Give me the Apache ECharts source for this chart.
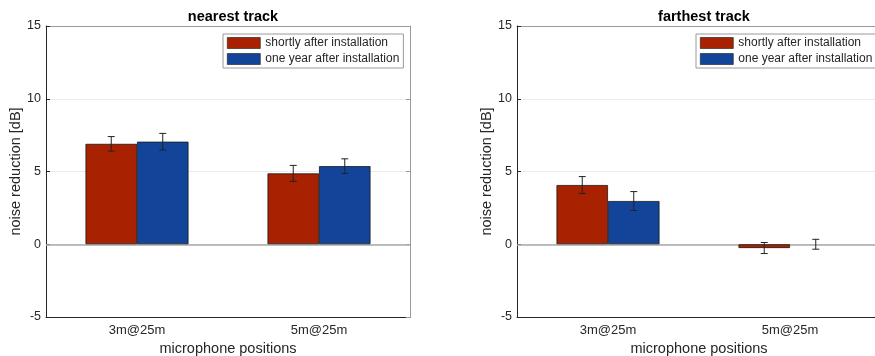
<!DOCTYPE html>
<html>
<head>
<meta charset="utf-8">
<script src="https://cdn.jsdelivr.net/npm/echarts@6/dist/echarts.min.js"></script>
<style>html,body{margin:0;padding:0;background:#fff}#c{width:875px;height:356px}</style>
</head>
<body>
<div id="c"></div>
<script>
const categories = ['3m@25m', '5m@25m'];
const seriesNames = ['shortly after installation', 'one year after installation'];
const titles = ['nearest track', 'farthest track'];
const yTicks = [-5, 0, 5, 10, 15];
// nearest track
const nearShortly = [6.9, 4.87];
const nearShortlyErr = [0.5, 0.55];
const nearYear = [7.05, 5.37];
const nearYearErr = [0.57, 0.5];
// farthest track
const farShortly = [4.07, -0.26];
const farShortlyErr = [0.58, 0.38];
const farYear = [2.97, 0.0];
const farYearErr = [0.65, 0.34];

const RED = '#a82100', BLUE = '#12449a';
const BAR_FRAC = 0.283;
const FONT = 'Liberation Sans, Arial, sans-serif';
const gridDefs = [{left: 46}, {left: 517}];

const panels = [
  {vals: [nearShortly, nearYear], errs: [nearShortlyErr, nearYearErr]},
  {vals: [farShortly, farYear], errs: [farShortlyErr, farYearErr]}
];

const grid = [], xAxis = [], yAxis = [], series = [], title = [], legend = [];
panels.forEach((p, g) => {
  grid.push({left: gridDefs[g].left, top: 26, width: 364, height: 291, containLabel: false, outerBoundsMode: 'none'});
  title.push({text: titles[g], left: gridDefs[g].left + 182, top: 4, textAlign: 'center',
    textStyle: {fontFamily: FONT, fontSize: 14.5, fontWeight: 'bold', color: '#000'}});
  legend.push({
    data: seriesNames, orient: 'vertical', left: g === 0 ? 223 : 696, top: 34,
    icon: 'rect', itemWidth: 33, itemHeight: 11, itemGap: 4, padding: [3, 4, 3, 4],
    borderColor: '#9a9a9a', borderWidth: 1, backgroundColor: '#fff', selectedMode: false,
    itemStyle: {borderWidth: 0.6, borderColor: '#1a1a1a'},
    textStyle: {fontFamily: FONT, fontSize: 12, color: '#262626', lineHeight: 12}
  });
  xAxis.push({
    type: 'category', gridIndex: g, data: categories, position: 'bottom',
    name: 'microphone positions', nameLocation: 'middle', nameGap: 24,
    nameTextStyle: {fontFamily: FONT, fontSize: 14.5, color: '#262626'},
    axisLine: {onZero: false, lineStyle: {color: '#262626', width: 1}},
    axisTick: {inside: true, alignWithLabel: true, length: 4, lineStyle: {color: '#262626'}},
    axisLabel: {fontFamily: FONT, fontSize: 13, color: '#262626', margin: 7},
    splitLine: {show: false}
  });
  xAxis.push({
    type: 'category', gridIndex: g, data: categories, position: 'top',
    axisLine: {onZero: false, lineStyle: {color: '#9a9a9a', width: 1}},
    axisTick: {inside: true, alignWithLabel: true, length: 4, lineStyle: {color: '#9a9a9a'}},
    axisLabel: {show: false}, splitLine: {show: false}
  });
  yAxis.push({
    type: 'value', gridIndex: g, min: -5, max: 15, interval: 5, position: 'left',
    name: 'noise reduction [dB]', nameLocation: 'middle', nameGap: 23,
    nameTextStyle: {fontFamily: FONT, fontSize: 14.5, color: '#262626'},
    axisLine: {show: true, lineStyle: {color: '#262626', width: 1}},
    axisTick: {show: true, inside: true, length: 4, lineStyle: {color: '#262626'}},
    axisLabel: {fontFamily: FONT, fontSize: 12.5, color: '#262626', margin: 5,
      formatter: v => yTicks.includes(v) ? String(v) : ''},
    splitLine: {show: true, lineStyle: {color: '#ebebeb', width: 1}}
  });
  yAxis.push({
    type: 'value', gridIndex: g, min: -5, max: 15, interval: 5, position: 'right',
    axisLine: {show: true, lineStyle: {color: '#9a9a9a', width: 1}},
    axisTick: {show: true, inside: true, length: 4, lineStyle: {color: '#9a9a9a'}},
    axisLabel: {show: false}, splitLine: {show: false}
  });
  const xi = g * 2, yi = g * 2;
  p.vals.forEach((vals, s) => {
    const ser = {
      name: seriesNames[s], type: 'bar', xAxisIndex: xi, yAxisIndex: yi,
      data: vals.map(v => v === 0 ? {value: v, itemStyle: {borderWidth: 0}} : v),
      barWidth: (BAR_FRAC * 100) + '%', barGap: '0%',
      itemStyle: {color: s === 0 ? RED : BLUE, borderColor: '#1a1a1a', borderWidth: 0.8},
      emphasis: {disabled: true}, z: 2
    };
    if (s === 0) {
      ser.markLine = {silent: true, symbol: 'none', label: {show: false},
        lineStyle: {color: '#a8a8a8', width: 1.5, type: 'solid'}, data: [{yAxis: 0}], z: 1};
    }
    series.push(ser);
  });
  const errData = [];
  p.vals.forEach((vals, s) => {
    vals.forEach((v, i) => errData.push([i, v - p.errs[s][i], v + p.errs[s][i], s]));
  });
  series.push({
    type: 'custom', xAxisIndex: xi, yAxisIndex: yi, data: errData, z: 5, silent: true,
    renderItem: (params, api) => {
      const i = api.value(0), lo = api.value(1), hi = api.value(2), s = api.value(3);
      const band = api.size([1, 0])[0];
      const bw = band * BAR_FRAC;
      const pLo = api.coord([i, lo]), pHi = api.coord([i, hi]);
      const x = pLo[0] + (s === 0 ? -bw / 2 : bw / 2);
      const cap = 3.5;
      const st = {stroke: '#222', lineWidth: 1};
      return {type: 'group', children: [
        {type: 'line', shape: {x1: x, y1: pLo[1], x2: x, y2: pHi[1]}, style: st},
        {type: 'line', shape: {x1: x - cap, y1: pLo[1], x2: x + cap, y2: pLo[1]}, style: st},
        {type: 'line', shape: {x1: x - cap, y1: pHi[1], x2: x + cap, y2: pHi[1]}, style: st}
      ]};
    }
  });
});

const chart = echarts.init(document.getElementById('c'), null, {renderer: 'canvas'});
chart.setOption({backgroundColor: '#fff', animation: false, title, legend, grid, xAxis, yAxis, series});
</script>
</body>
</html>
